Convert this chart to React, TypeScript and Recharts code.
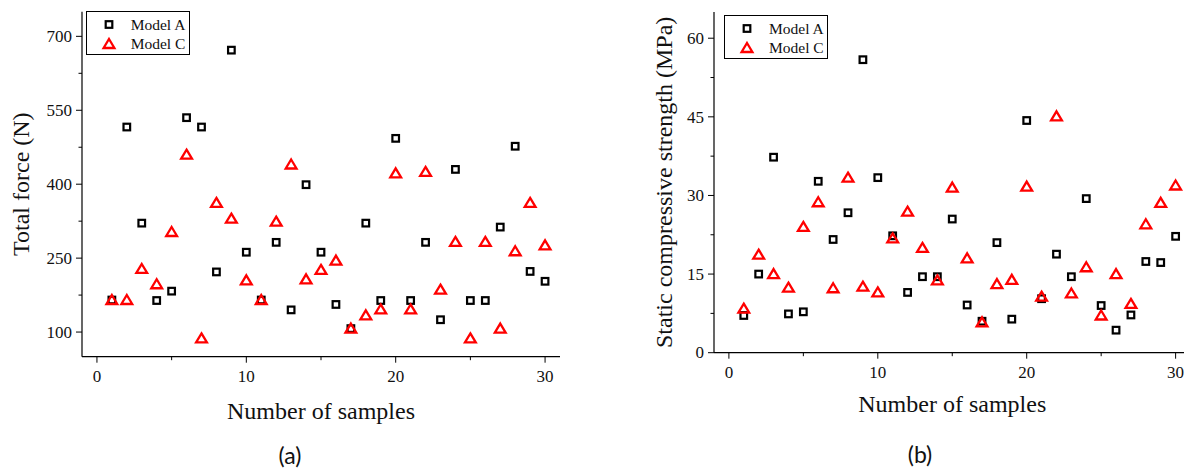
import React from "react";
import { ScatterChart, Scatter, XAxis, YAxis, Legend } from "recharts";

const samples = [
    1, 2, 3, 4, 5, 6, 7, 8, 9, 10, 11, 12, 13, 14, 15, 16, 17, 18, 19, 20, 21, 22, 23, 24, 25, 26, 27, 28, 29, 30,
];

// (a) total force, N
const forceModelA = [
    165, 516, 321, 164, 183, 535, 516, 222, 672, 262, 165, 282, 145, 399, 262, 156, 107, 321, 164, 493, 164, 282,
    125, 430, 164, 164, 313, 477, 223, 203,
];
const forceModelC = [
    165, 165, 228, 197, 303, 460, 87, 362, 330, 205, 165, 324, 440, 207, 226, 245, 107, 134, 146, 422, 146, 425,
    186, 283, 87, 283, 107, 264, 362, 276,
];

// (b) static compressive strength, MPa
const strengthModelA = [
    7.1, 15.0, 37.3, 7.4, 7.8, 32.7, 21.6, 26.7, 55.9, 33.4, 22.3, 11.5, 14.5, 14.5, 25.5, 9.1, 6.0, 21.0, 6.4, 44.3,
    10.3, 18.8, 14.5, 29.4, 9.0, 4.3, 7.2, 17.4, 17.2, 22.2,
];
const strengthModelC = [
    8.4, 18.7, 15.0, 12.4, 24.0, 28.7, 12.3, 33.4, 12.6, 11.5, 21.8, 26.9, 20.0, 13.8, 31.5, 18.0, 5.8, 13.1, 13.9,
    31.7, 10.7, 45.1, 11.3, 16.3, 7.1, 15.0, 9.3, 24.5, 28.6, 31.9,
];

const sampleTicks = [0, 5, 10, 15, 20, 25, 30];
const forceTicks = [100, 175, 250, 325, 400, 475, 550, 625, 700];
const strengthTicks = [0, 7.5, 15, 22.5, 30, 37.5, 45, 52.5, 60];

const SERIF = "'Liberation Serif', 'DejaVu Serif', serif";

const toPoints = (values: number[]) => samples.map((s, i) => ({ x: s, y: values[i] }));

function SquareMark(props: any) {
    const { cx, cy } = props;
    if (cx == null || cy == null) return null;
    return <rect x={cx - 3.3} y={cy - 3.3} width={6.6} height={6.6} fill="none" stroke="#000" strokeWidth={2.2} />;
}

function TriangleMark(props: any) {
    const { cx, cy } = props;
    if (cx == null || cy == null) return null;
    const d = `M${cx},${cy - 5} L${cx + 5.4},${cy + 4} L${cx - 5.4},${cy + 4} Z`;
    return <path d={d} fill="none" stroke="#ff0000" strokeWidth={2.3} strokeLinejoin="miter" />;
}

const makeXTick = (isMajor: (v: number) => boolean) => (props: any) => {
    const { x, y, payload } = props;
    const major = isMajor(payload.value);
    return (
        <g>
            <line x1={x} x2={x} y1={y} y2={y + (major ? 6 : 3.5)} stroke="#000" strokeWidth={1} />
            {major && (
                <text x={x} y={y + 25} textAnchor="middle" fontFamily={SERIF} fontSize={17} fill="#111">
                    {payload.value}
                </text>
            )}
        </g>
    );
};

const makeYTick = (isMajor: (v: number) => boolean) => (props: any) => {
    const { x, y, payload } = props;
    const major = isMajor(payload.value);
    return (
        <g>
            <line x1={x - (major ? 6 : 3.5)} x2={x} y1={y} y2={y} stroke="#000" strokeWidth={1} />
            {major && (
                <text x={x - 10} y={y} dy="0.34em" textAnchor="end" fontFamily={SERIF} fontSize={17} fill="#111">
                    {payload.value}
                </text>
            )}
        </g>
    );
};

const sampleTick = makeXTick((v) => v % 10 === 0);
const forceTick = makeYTick((v) => (v - 100) % 150 === 0);
const strengthTick = makeYTick((v) => v % 15 === 0);

function LegendBox(props: any) {
    const { payload = [] } = props;
    return (
        <div
            style={{
                position: "relative",
                width: 104,
                height: 44,
                border: "1px solid #000",
                background: "#fff",
                boxSizing: "border-box",
            }}
        >
            {payload.map((entry: any) => {
                const row = entry.value === "Model A" ? 0 : 1;
                return (
                    <div
                        key={entry.value}
                        style={{ position: "absolute", left: 0, top: 3 + row * 19, height: 19, display: "flex", alignItems: "center" }}
                    >
                        <svg width={44} height={19} style={{ display: "block" }}>
                            {row === 0 ? <SquareMark cx={22} cy={9.5} /> : <TriangleMark cx={22} cy={10} />}
                        </svg>
                        <span style={{ fontFamily: SERIF, fontSize: 15.5, color: "#111", lineHeight: "19px", whiteSpace: "nowrap" }}>
                            {entry.value}
                        </span>
                    </div>
                );
            })}
        </div>
    );
}

const axisLabelStyle = { fontFamily: SERIF, fontSize: 24, fill: "#111" };

export default function App() {
    return (
        <div
            style={{
                position: "absolute",
                left: 0,
                top: 0,
                width: 1184,
                height: 468,
                overflow: "hidden",
                background: "#fff",
            }}
        >
            {/* (a) */}
            <div style={{ position: "absolute", left: 0, top: 0 }}>
                <ScatterChart width={600} height={468} margin={{ top: 11.7, right: 40, bottom: 41.3, left: 12 }}>
                    <XAxis
                        type="number"
                        dataKey="x"
                        domain={[-1, 31]}
                        ticks={sampleTicks}
                        interval={0}
                        tickSize={0}
                        tickMargin={0}
                        tick={sampleTick}
                        height={70}
                        axisLine={{ stroke: "#000", strokeWidth: 1.2 }}
                        label={{ value: "Number of samples", position: "insideBottom", offset: 8, style: axisLabelStyle }}
                    />
                    <YAxis
                        type="number"
                        dataKey="y"
                        domain={[50, 750]}
                        ticks={forceTicks}
                        interval={0}
                        tickSize={0}
                        tickMargin={0}
                        tick={forceTick}
                        width={70}
                        axisLine={{ stroke: "#000", strokeWidth: 1.2 }}
                        label={{
                            value: "Total force (N)",
                            angle: -90,
                            position: "insideLeft",
                            offset: 8.5,
                            style: { ...axisLabelStyle, textAnchor: "middle" },
                        }}
                    />
                    <Legend
                        layout="vertical"
                        align="center"
                        verticalAlign="middle"
                        content={<LegendBox />}
                        wrapperStyle={{ left: 85.7, top: 11, width: 104, height: 44 }}
                    />
                    <Scatter
                        name="Model A"
                        data={toPoints(forceModelA)}
                        fill="#000"
                        shape={<SquareMark />}
                        isAnimationActive={false}
                    />
                    <Scatter
                        name="Model C"
                        data={toPoints(forceModelC)}
                        fill="#ff0000"
                        shape={<TriangleMark />}
                        isAnimationActive={false}
                    />
                </ScatterChart>
            </div>

            {/* (b) */}
            <div style={{ position: "absolute", left: 620, top: 0 }}>
                <ScatterChart width={600} height={468} margin={{ top: 12, right: 29.5, bottom: 45.3, left: 24 }}>
                    <XAxis
                        type="number"
                        dataKey="x"
                        domain={[-1, 31]}
                        ticks={sampleTicks}
                        interval={0}
                        tickSize={0}
                        tickMargin={0}
                        tick={sampleTick}
                        height={70}
                        axisLine={{ stroke: "#000", strokeWidth: 1.2 }}
                        label={{ value: "Number of samples", position: "insideBottom", offset: 11, style: axisLabelStyle }}
                    />
                    <YAxis
                        type="number"
                        dataKey="y"
                        domain={[0, 65]}
                        ticks={strengthTicks}
                        interval={0}
                        tickSize={0}
                        tickMargin={0}
                        tick={strengthTick}
                        width={70}
                        axisLine={{ stroke: "#000", strokeWidth: 1.2 }}
                        label={{
                            value: "Static compressive strength (MPa)",
                            angle: -90,
                            position: "insideLeft",
                            offset: 19,
                            style: { ...axisLabelStyle, textAnchor: "middle" },
                        }}
                    />
                    <Legend
                        layout="vertical"
                        align="center"
                        verticalAlign="middle"
                        content={<LegendBox />}
                        wrapperStyle={{ left: 104, top: 15, width: 104, height: 44 }}
                    />
                    <Scatter
                        name="Model A"
                        data={toPoints(strengthModelA)}
                        fill="#000"
                        shape={<SquareMark />}
                        isAnimationActive={false}
                    />
                    <Scatter
                        name="Model C"
                        data={toPoints(strengthModelC)}
                        fill="#ff0000"
                        shape={<TriangleMark />}
                        isAnimationActive={false}
                    />
                </ScatterChart>
            </div>

            <div style={{ position: "absolute", left: 240, width: 100, top: 441, textAlign: "center", fontFamily: "Lato, sans-serif", fontSize: 23, color: "#111" }}>
                (a)
            </div>
            <div style={{ position: "absolute", left: 870, width: 100, top: 440, textAlign: "center", fontFamily: "Lato, sans-serif", fontSize: 23, color: "#111" }}>
                (b)
            </div>
        </div>
    );
}
